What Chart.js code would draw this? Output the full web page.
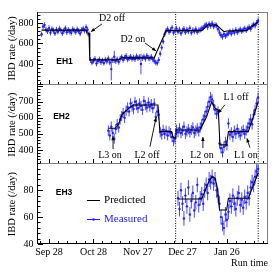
<!DOCTYPE html>
<html>
<head>
<meta charset="utf-8">
<script src="https://cdn.jsdelivr.net/npm/chart.js@4.4.1/dist/chart.umd.min.js"></script>
<style>
  html, body { margin: 0; padding: 0; background: #fff; }
  #wrap { position: relative; width: 279px; height: 273px; }
  #wrap canvas { position: absolute; left: 0; top: 0; }
</style>
</head>
<body>
<div id="wrap">
  <canvas id="c1" width="279" height="273"></canvas>
  <canvas id="c2" width="279" height="273"></canvas>
  <canvas id="c3" width="279" height="273"></canvas>
</div>
<script>
// x axis: days since Sep 28
const xTickDays = [0, 30, 60, 90, 120];
const xTickLabels = ['Sep 28', 'Oct 28', 'Nov 27', 'Dec 27', 'Jan 26'];
const dottedDays = [85.4, 141.1];

// EH1 measured, one value per day starting at eh1Start
const eh1Start = -5;
const eh1Rate = [
  690, 765, 780, 735, 720, 750, 705, 740, 725, 700,
  735, 715, 745, 728, 700, 722, 748, 710, 733, 718,
  705, 740, 725, 712, 738, 720, 698, 730, 745, 726,
  760, 735, 690,
  440, 415, 432, 450, 405, 428, 445, 418, 436, 410,
  442, 425, 455, 415, 350, 438, 470, 428, 446, 420,
  452, 468, 440, 462, 478, 445, 458, 470, 450, 462,
  448, 475, 455, 466, 400, 458, 472, 450, 480, 460,
  455, 470, 445, 430,
  415, 410, 440, 500, 560, 620, 690, 725,
  740, 712, 730, 755, 705, 725, 745, 715, 735, 700,
  728, 742, 710, 735, 720, 750, 705, 730, 718, 740,
  712, 728, 735, 745,
  755, 770, 785, 760,
  790, 772, 795, 768, 780, 775,
  740, 705, 680, 665, 690, 672,
  685, 700, 715, 695, 720, 705, 732, 710, 725, 738,
  720, 735, 745, 730,
  748, 760, 742, 770, 785, 775, 800, 820
];
const eh1Err = 28;
const eh1BigErr = [[42, 110], [44, 60], [62, 100]];
const eh1PredDay = [-5, 25, 25.5, 27, 27.5, 47, 49, 71, 73, 79, 103, 107, 113, 118, 120, 133, 141];
const eh1PredRate = [730, 730, 705, 700, 440, 440, 460, 460, 530, 725, 725, 780, 780, 715, 722, 725, 810];

// EH2 measured
const eh2Start = 40;
const eh2Rate = [
  520, 490, 545, 505, 470, 530, 560, 540, 590, 610,
  630, 600, 645, 665, 640, 690, 670, 655, 700, 680,
  660, 690, 675, 650, 705, 680, 665, 695, 670, 685,
  660, 690, 605, 640, 620,
  510, 495, 525, 500, 520, 490, 515, 505, 480, 455,
  470, 525, 510, 535, 505, 520, 545, 500, 515, 530,
  510, 525, 540, 505, 520, 535, 515,
  540, 560, 590, 610, 640, 670, 700, 730, 715, 680,
  650, 625, 640,
  440, 410, 385, 420, 450, 430,
  565, 495, 510, 480, 520, 500, 530, 505, 490, 515,
  525, 500, 520,
  540, 565, 590, 560, 620, 650, 690, 725
];
const eh2Err = 32;
const eh2BigErr = [];
const eh2PredDay = [40, 44.5, 47, 49, 51.2, 54.6, 56.8, 73.5, 74.8, 82.7, 83.8, 85.3, 85.6, 101.8, 106.3, 109.7, 112, 114.2, 115.3, 119.8, 121, 134.4, 141.1];
const eh2PredRate = [535, 535, 560, 617, 638, 665, 680, 680, 514, 514, 475, 475, 524, 524, 607, 700, 660, 648, 431, 431, 514, 514, 700];

// EH3 measured
const eh3Start = 87;
const eh3Rate = [
  74, 66, 80, 70, 59, 76, 68, 82, 62, 72,
  78, 65, 71, 84, 69, 74, 77,
  70, 80, 84, 78, 88, 86, 90, 85, 88,
  80, 76, 70,
  60, 55, 52, 62, 58, 64,
  72, 68, 76, 70, 66, 74, 78, 69, 73, 67,
  75, 71,
  78, 74, 82, 86, 84, 90, 94, 96
];
const eh3Err = 5.5;
const eh3BigErr = [];
const eh3PredDay = [87, 103, 108, 110, 112, 113.5, 115, 119.8, 121, 134.4, 141.1];
const eh3PredRate = [73.5, 73.5, 87, 90, 89, 82, 65.3, 65.3, 74, 74, 93];

const SERIF = '"Liberation Serif", "DejaVu Serif", serif';
const SANS = '"Liberation Sans", Arial, sans-serif';
const BLUE = '#2020ff';
const xMin = -8.1, xMax = 147.7;

function drawArrow(ctx, x1, y1, x2, y2) {
  const a = Math.atan2(y2 - y1, x2 - x1), h = 4, w = 1.8;
  ctx.beginPath(); ctx.moveTo(x1, y1); ctx.lineTo(x2, y2); ctx.stroke();
  ctx.beginPath();
  ctx.moveTo(x2, y2);
  ctx.lineTo(x2 - h * Math.cos(a) + w * Math.sin(a), y2 - h * Math.sin(a) - w * Math.cos(a));
  ctx.lineTo(x2 - h * Math.cos(a) - w * Math.sin(a), y2 - h * Math.sin(a) + w * Math.cos(a));
  ctx.closePath(); ctx.fill();
}

// frame, inward ticks, labels, arrows, legend
const annot = {
  id: 'annot',
  afterDraw(chart, args, o) {
    const {ctx, chartArea: a, scales: {x, y}} = chart;
    const L = Math.round(a.left), T = Math.round(a.top), R = Math.round(a.right), B = Math.round(a.bottom);
    ctx.save();
    ctx.lineWidth = 1;
    ctx.strokeStyle = '#808080';
    ctx.beginPath();
    if (o.drawTop) { ctx.moveTo(L, T + 0.5); ctx.lineTo(R, T + 0.5); }
    ctx.moveTo(R - 0.5, T); ctx.lineTo(R - 0.5, B);
    ctx.stroke();
    ctx.strokeStyle = o.bottomColor;
    ctx.beginPath(); ctx.moveTo(L, B - 0.5); ctx.lineTo(R, B - 0.5); ctx.stroke();
    ctx.strokeStyle = '#000';
    ctx.beginPath(); ctx.moveTo(L + 0.5, T); ctx.lineTo(L + 0.5, B); ctx.stroke();

    // y ticks
    ctx.beginPath();
    for (let v = Math.ceil(y.min / o.yMinor) * o.yMinor; v <= y.max; v += o.yMinor) {
      const py = Math.round(y.getPixelForValue(v)) + 0.5;
      const len = (Math.abs(v / o.yMajor - Math.round(v / o.yMajor)) < 1e-6) ? 5 : 2.5;
      ctx.moveTo(L + 1, py); ctx.lineTo(L + 1 + len, py);
    }
    // x ticks
    for (let d = 0; d <= x.max; d += 6) {
      const px = Math.round(x.getPixelForValue(d)) + 0.5;
      const len = (d % 30 === 0) ? 4 : 2;
      ctx.moveTo(px, B - 1); ctx.lineTo(px, B - 1 - len);
    }
    for (let d = -6; d >= x.min; d -= 6) {
      const px = Math.round(x.getPixelForValue(d)) + 0.5;
      ctx.moveTo(px, B - 1); ctx.lineTo(px, B - 3);
    }
    ctx.stroke();

    // panel name
    ctx.fillStyle = '#000';
    ctx.font = 'bold 8.5px ' + SANS;
    ctx.textAlign = 'center'; ctx.textBaseline = 'middle';
    ctx.fillText(o.name, x.getPixelForValue(o.nameAt[0]), y.getPixelForValue(o.nameAt[1]));

    // notes and arrows
    ctx.font = '10px ' + SERIF;
    o.notes.forEach(n => ctx.fillText(n[0], x.getPixelForValue(n[1]), y.getPixelForValue(n[2])));
    ctx.lineWidth = 0.9;
    o.arrows.forEach(r => drawArrow(ctx,
      x.getPixelForValue(r[0]), y.getPixelForValue(r[1]),
      x.getPixelForValue(r[2]), y.getPixelForValue(r[3])));

    // legend
    if (o.legend) {
      ctx.font = '11px ' + SERIF;
      ctx.textAlign = 'left';
      o.legend.forEach(l => {
        const x1 = x.getPixelForValue(l.d1), x2 = x.getPixelForValue(l.d2);
        const py = Math.round(y.getPixelForValue(l.v)) + 0.5;
        ctx.strokeStyle = l.color; ctx.fillStyle = l.color; ctx.lineWidth = 1;
        ctx.beginPath(); ctx.moveTo(x1, py); ctx.lineTo(x2, py); ctx.stroke();
        if (l.marker) {
          ctx.beginPath(); ctx.arc((x1 + x2) / 2, py, 1.3, 0, Math.PI * 2); ctx.fill();
        }
        ctx.fillText(l.text, x2 + 4, py);
      });
    }
    ctx.restore();
  }
};

const panels = [
  {
    id: 'c1', padTop: 11.7, padBottom: 188, yMin: 195, yMax: 910, yMajor: 200, yMinor: 40, yLabels: [400, 600, 800],
    start: eh1Start, rate: eh1Rate, err: eh1Err, bigErr: eh1BigErr, predDay: eh1PredDay, predRate: eh1PredRate,
    name: 'EH1', nameAt: [10.5, 419], drawTop: true, bottomColor: '#808080', showX: false,
    notes: [['D2 off', 42.5, 849], ['D2 on', 56.5, 644]],
    arrows: [[35.7, 790, 28.3, 715], [64.7, 605, 72.2, 527]]
  },
  {
    id: 'c2', padTop: 85, padBottom: 108.7, yMin: 310, yMax: 805, yMajor: 100, yMinor: 20, yLabels: [400, 500, 600, 700],
    start: eh2Start, rate: eh2Rate, err: eh2Err, bigErr: eh2BigErr, predDay: eh2PredDay, predRate: eh2PredRate,
    name: 'EH2', nameAt: [8.4, 605], drawTop: false, bottomColor: '#808080', showX: false,
    notes: [['L3 on', 41.1, 363], ['L2 off', 66.1, 363], ['L2 on', 103.2, 363], ['L1 off', 126.1, 729], ['L1 on', 132.8, 363]],
    arrows: [[43.2, 405, 43.2, 485], [68.1, 420, 72.2, 602], [103.8, 412, 103.8, 480],
             [118.7, 682, 114, 628], [135.5, 414, 133.5, 472]]
  },
  {
    id: 'c3', padTop: 164.3, padBottom: 3, yMin: 40, yMax: 99.3, yMajor: 20, yMinor: 4, yLabels: [40, 60, 80],
    start: eh3Start, rate: eh3Rate, err: eh3Err, bigErr: eh3BigErr, predDay: eh3PredDay, predRate: eh3PredRate,
    name: 'EH3', nameAt: [10.1, 78], drawTop: false, bottomColor: '#000', showX: true,
    notes: [], arrows: [],
    legend: [
      {d1: 25.6, d2: 34.4, v: 72.8, color: '#000', text: 'Predicted'},
      {d1: 25.6, d2: 34.4, v: 58.6, color: BLUE, text: 'Measured', marker: true}
    ]
  }
];

panels.forEach(p => {
  const errFor = d => { const b = p.bigErr.find(e => e[0] === d); return b ? b[1] : p.err; };
  const pts = p.rate.map((v, i) => ({x: p.start + i, y: v}));
  const bars = p.rate.map((v, i) => { const d = p.start + i, e = errFor(d); return {x: d, y: [v - e, v + e]}; });
  const pred = p.predDay.map((d, i) => ({x: d, y: p.predRate[i]}));
  const dotted = dottedDays.map(d => ({
    type: 'line', data: [{x: d, y: p.yMin}, {x: d, y: p.yMax}],
    borderColor: '#000', borderWidth: 1, borderDash: [1, 1.5], pointRadius: 0, order: 3
  }));

  new Chart(document.getElementById(p.id), {
    type: 'bar',
    data: {
      datasets: [
        {type: 'line', data: pred, borderColor: '#000', borderWidth: 1.1, pointRadius: 0, tension: 0, order: 0},
        {type: 'line', data: pts, showLine: false, pointRadius: 1.2, pointBorderWidth: 0, pointBackgroundColor: BLUE, order: 1},
        {type: 'bar', data: bars, backgroundColor: 'rgba(40,40,255,0.85)', barThickness: 1, inflateAmount: 0, grouped: false, order: 2},
        ...dotted
      ]
    },
    options: {
      responsive: false,
      animation: false,
      events: [],
      layout: {padding: {left: 0, right: 11, top: p.padTop, bottom: p.padBottom}},
      plugins: {
        legend: {display: false},
        tooltip: {enabled: false},
        annot: p
      },
      scales: {
        x: {
          type: 'linear', min: xMin, max: xMax, offset: false, display: p.showX,
          afterBuildTicks: s => { s.ticks = xTickDays.map(v => ({value: v})); },
          afterFit: s => { if (p.showX) s.height = 26; },
          grid: {drawOnChartArea: false, drawTicks: false},
          border: {display: false},
          ticks: {
            font: {family: SERIF, size: 10}, color: '#000', padding: 2, maxRotation: 0, autoSkip: false,
            callback: v => xTickLabels[xTickDays.indexOf(v)]
          },
          title: {display: true, text: 'Run time', align: 'end', font: {family: SERIF, size: 10}, color: '#000', padding: {top: 0, bottom: 1}}
        },
        y: {
          type: 'linear', min: p.yMin, max: p.yMax,
          afterBuildTicks: s => { s.ticks = p.yLabels.map(v => ({value: v})); },
          afterFit: s => { s.width = 37; },
          grid: {drawOnChartArea: false, drawTicks: false},
          border: {display: false},
          ticks: {font: {family: SERIF, size: 10}, color: '#000', padding: 3.5},
          title: {display: true, text: 'IBD rate (/day)', font: {family: SERIF, size: 10.5}, color: '#000', padding: {top: 6.2, bottom: 0}}
        }
      }
    },
    plugins: [annot]
  });
});
</script>
</body>
</html>
